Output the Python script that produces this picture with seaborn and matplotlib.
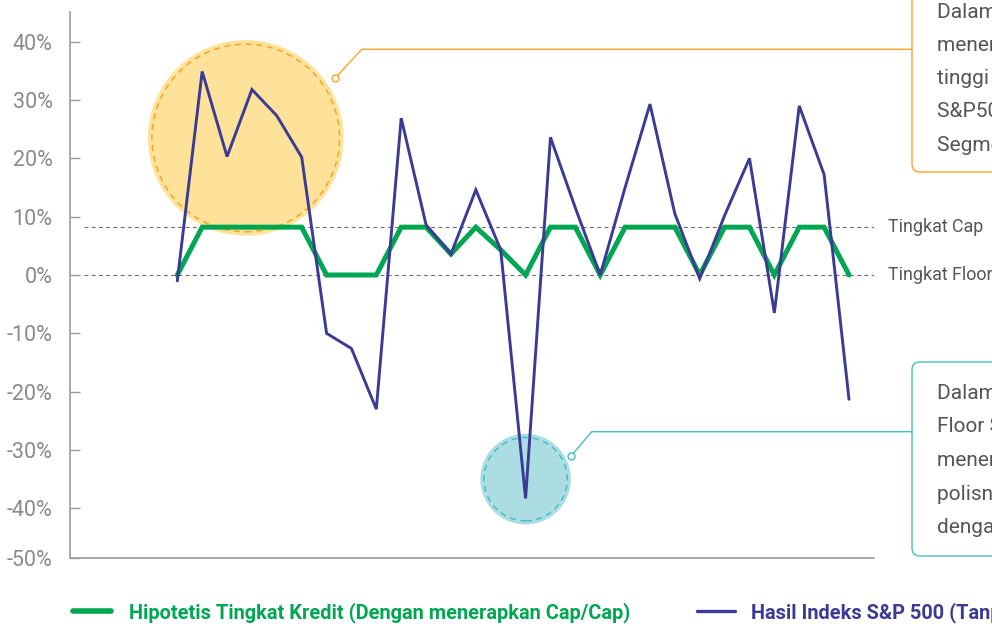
import matplotlib
matplotlib.use("Agg")
import matplotlib.pyplot as plt
import matplotlib.transforms as mtransforms
from matplotlib.patches import FancyBboxPatch
from matplotlib.lines import Line2D
import seaborn as sns
import pandas as pd

# ---------------- data ----------------
years = [1994, 1995, 1996, 1997, 1998, 1999, 2000, 2001, 2002, 2003,
         2004, 2005, 2006, 2007, 2008, 2009, 2010, 2011, 2012, 2013,
         2014, 2015, 2016, 2017, 2018, 2019, 2020, 2021]
sp500_return = [-1.0, 34.9, 20.3, 31.8, 27.3, 20.2, -10.0, -12.6, -23.0, 26.9,
                8.6, 3.6, 14.6, 4.3, -38.3, 23.6, 11.5, 0.0, 15.0, 29.3,
                10.5, -0.6, 10.2, 20.0, -6.5, 29.0, 17.2, -21.3]
credit_rate = [0.0, 8.2, 8.2, 8.2, 8.2, 8.2, 0.0, 0.0, 0.0, 8.2,
               8.2, 3.6, 8.2, 4.3, 0.0, 8.2, 8.2, 0.0, 8.2, 8.2,
               8.2, 0.0, 8.2, 8.2, 0.0, 8.2, 8.2, 0.0]
cap_rate = 8.2
floor_rate = 0.0
ytick_values = [-40, -30, -20, -10, 0, 10, 20, 30, 40]
ytick_labels = ["-40%", "-30%", "-20%", "-10%", "0%", "10%", "20%", "30%", "40%"]
bottom_label = "-50%"
legend_labels = ["Hipotetis Tingkat Kredit (Dengan menerapkan Cap/Cap)",
                 "Hasil Indeks S&P 500 (Tanpa menerapkan Cap/Floor)"]
ref_labels = ["Tingkat Cap", "Tingkat Floor"]
box1_lines = ["Dalam tahun-tahun ketika pasar naik,",
              "menerapkan Cap berarti kredit lebih",
              "tinggi tidak diberikan meskipun",
              "S&P500 naik lebih tinggi selama",
              "Segmen berlangsung."]
box2_lines = ["Dalam tahun-tahun ketika pasar turun,",
              "Floor Segmen melindungi Anda dari",
              "menerima kredit negatif, sehingga",
              "polisnya tetap terlindungi",
              "dengan Tingkat Floor 0%."]
highlight_up = (1996.75, 23.5)
highlight_down = (2008, -35.0)

# ---------------- style ----------------
sns.set_theme(style="white")
plt.rcParams["font.family"] = ["Roboto", "DejaVu Sans"]

GREEN = "#00A651"
BLUE = "#3B3B96"
ORANGE = "#F5A52A"
ORANGE_FILL = "#FFE299"
TEAL = "#45C0C2"
TEAL_FILL = "#ABDDE3"
GRAY_AX = "#9B9B9B"
GRAY_TXT = "#8A8A8A"
DARK_TXT = "#555555"

W, H = 992, 626
fig = plt.figure(figsize=(W / 100, H / 100), dpi=100)
fig.patch.set_facecolor("white")
ax = fig.add_axes([70 / W, (H - 558.3) / H, 804 / W, (558.3 - 11.7) / H])

df = pd.DataFrame({"year": years, "sp500": sp500_return, "credit": credit_rate})

# highlight circles
ax.scatter([highlight_up[0]], [highlight_up[1]], s=19830, color=ORANGE_FILL,
           edgecolor="none", zorder=1)
ax.scatter([highlight_up[0]], [highlight_up[1]], s=18250, facecolor="none",
           edgecolor=ORANGE, linewidth=1.1, linestyle=(0, (4, 3)), zorder=1.5)
ax.scatter([highlight_down[0]], [highlight_down[1]], s=4255, color=TEAL_FILL,
           edgecolor="none", zorder=1)
ax.scatter([highlight_down[0]], [highlight_down[1]], s=3600, facecolor="none",
           edgecolor=TEAL, linewidth=1.1, linestyle=(0, (4, 3)), zorder=1.5)

# reference lines
for lvl in (cap_rate, floor_rate):
    ax.axhline(lvl, xmin=14 / 804, xmax=1.0, color="#6f6f6f", lw=0.8,
               ls=(0, (3.5, 3)), zorder=2)

sns.lineplot(data=df, x="year", y="credit", color=GREEN, linewidth=3.6,
             ax=ax, zorder=3, solid_joinstyle="miter")
sns.lineplot(data=df, x="year", y="sp500", color=BLUE, linewidth=2.1,
             ax=ax, zorder=4, solid_joinstyle="miter")

ax.set_xlim(years[0] - 4.313, years[-1] + 1.005)
ax.set_ylim(-48.57, 45.14)
ax.set_xlabel("")
ax.set_ylabel("")
ax.set_xticks([])
ax.set_yticks(ytick_values + [-48.57])
ax.set_yticklabels(ytick_labels + [bottom_label])
ax.tick_params(axis="y", direction="in", length=7, width=1, color=GRAY_AX,
               pad=12.5, labelsize=15.5, labelcolor=GRAY_TXT, left=True)
for side in ("top", "right"):
    ax.spines[side].set_visible(False)
for side in ("left", "bottom"):
    ax.spines[side].set_color(GRAY_AX)
    ax.spines[side].set_linewidth(1.2)

# reference line labels
trans_ref = mtransforms.blended_transform_factory(ax.transAxes, ax.transData)
for lvl, lab in zip((cap_rate, floor_rate), ref_labels):
    ax.text((888 - 70) / 804, lvl, lab, transform=trans_ref, ha="left",
            va="center", fontsize=12.9, color=DARK_TXT, clip_on=False)

ident = mtransforms.IdentityTransform()


def P(x, y):
    return x, H - y


def polyline(pts, color, lw):
    xs = [P(*p)[0] for p in pts]
    ys = [P(*p)[1] for p in pts]
    fig.add_artist(Line2D(xs, ys, transform=ident, color=color, lw=lw, zorder=5))
    fig.add_artist(Line2D([xs[0]], [ys[0]], transform=ident, marker="o",
                          markersize=5, markerfacecolor="white",
                          markeredgecolor=color, markeredgewidth=1.0, zorder=6))


polyline([(335, 78.3), (361.7, 49.3), (912, 49.3)], ORANGE, 1.0)
polyline([(571.3, 455.7), (591.7, 431.7), (912, 431.7)], TEAL, 1.0)


def box(top, bottom, color):
    x0, y0 = P(912, bottom)
    fig.add_artist(FancyBboxPatch((x0, y0), 400, bottom - top, transform=ident,
                                  boxstyle="round,pad=0,rounding_size=8",
                                  facecolor="white", edgecolor=color, lw=1.0,
                                  zorder=4))


box(-30, 172, ORANGE)
box(362, 556, TEAL)

for i, line in enumerate(box1_lines):
    x, y = P(937, 17.5 + 33.3 * i)
    fig.text(x, y, line, transform=ident, fontsize=15, color=DARK_TXT,
             va="baseline", ha="left", zorder=6)
for i, line in enumerate(box2_lines):
    x, y = P(937, 399 + 33.5 * i)
    fig.text(x, y, line, transform=ident, fontsize=15, color=DARK_TXT,
             va="baseline", ha="left", zorder=6)

# legend
for (x0, x1, tx, color, lw, lab) in [(73, 111, 129, GREEN, 4.0, legend_labels[0]),
                                      (697, 735, 751, BLUE, 2.4, legend_labels[1])]:
    xa, ya = P(x0, 611)
    xb, _ = P(x1, 611)
    fig.add_artist(Line2D([xa, xb], [ya, ya], transform=ident, color=color, lw=lw))
    xt, yt = P(tx, 618)
    fig.text(xt, yt, lab, transform=ident, fontsize=14.4, fontweight="bold",
             color=color, va="baseline", ha="left")

fig.savefig("out.png", dpi=100)
